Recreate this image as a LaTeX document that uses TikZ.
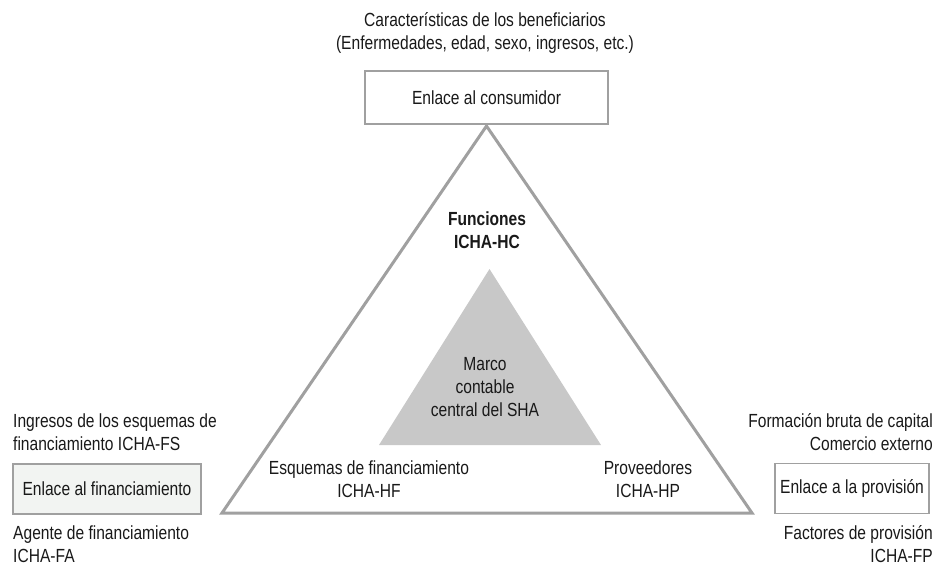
\documentclass[tikz,border=0pt]{standalone}
\usepackage{fontspec}
\setmainfont{Liberation Sans}[FakeStretch=0.82]
\definecolor{finfill}{RGB}{242,244,242}
\definecolor{edgegray}{RGB}{160,160,160}
\definecolor{innergray}{RGB}{200,200,200}
\begin{document}
\begin{tikzpicture}[x=1pt,y=-1pt,
  every node/.style={font=\fontsize{19}{23}\selectfont, text=black!90, inner sep=0pt},
  linkbox/.style={draw=edgegray, line width=1.5pt, minimum height=50pt, anchor=center},
  lbl/.style={align=center}]
\useasboundingbox (0,0) rectangle (938,566);
% outer triangle
\draw[edgegray, line width=3pt, line join=miter] (486.5,126) -- (752,513) -- (222,513) -- cycle;
% inner triangle
\fill[innergray] (489.5,269) -- (601,445) -- (379,445) -- cycle;
% top
\node[lbl] (benef) at (485,33) {Características de los beneficiarios\\(Enfermedades, edad, sexo, ingresos, etc.)};
\node[linkbox, fill=white, minimum width=243pt, minimum height=53pt] (cons) at (486.5,97.5) {Enlace al consumidor};
\node[lbl, font=\fontsize{19}{23}\selectfont\bfseries] (func) at (487,230) {Funciones\\ICHA-HC};
\node[lbl] (marco) at (485,387) {Marco\\contable\\central del SHA};
\node[lbl] (esq) at (369,479) {Esquemas de financiamiento\\ICHA-HF};
\node[lbl] (prov) at (648,479) {Proveedores\\ICHA-HP};
% left
\node[align=left, anchor=west] (ingr) at (13,432.5) {Ingresos de los esquemas de\\financiamiento ICHA-FS};
\node[linkbox, fill=finfill, minimum width=188pt] (fin) at (107,489) {Enlace al financiamiento};
\node[align=left, anchor=west] (agen) at (13,544) {Agente de financiamiento\\ICHA-FA};
% right
\node[align=right, anchor=east] (form) at (933,432.5) {Formación bruta de capital\\Comercio externo};
\node[linkbox, fill=white, minimum width=154pt] (provi) at (852,488.5) {Enlace a la provisión};
\node[align=right, anchor=east] (fact) at (933,544) {Factores de provisión\\ICHA-FP};
\end{tikzpicture}
\end{document}
